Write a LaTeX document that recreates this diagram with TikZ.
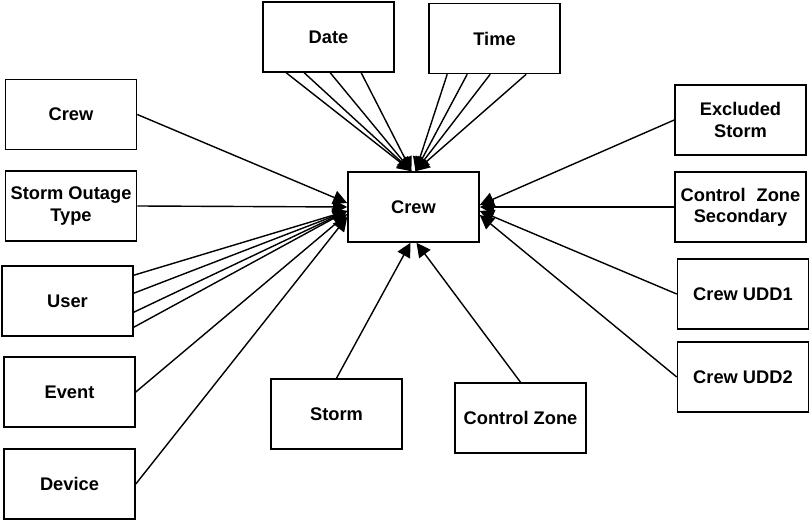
\documentclass[tikz,border=0pt]{standalone}
\usepackage{fontspec}
\setmainfont{Liberation Sans}
\usetikzlibrary{arrows.meta,calc}

\begin{document}
\begin{tikzpicture}[
    x=0.025cm,
    y=-0.025cm,
    entity/.style={
        rectangle,
        draw=black,
        line width=1.1pt,
        minimum width=3.275cm,
        minimum height=1.75cm,
        align=center,
        font=\fontsize{13}{15}\selectfont\bfseries
    },
    link/.style={
        -{Triangle[length=10pt,width=10pt]},
        line width=1pt
    }
]
\useasboundingbox (0,0) rectangle (811,523);

% Center entity
\node[entity] (hub) at (413.5,207) {Crew};

% Top
\node[entity] (date) at (328.5,37) {Date};
\node[entity] (time) at (494.5,38.5) {Time};

% Left column
\node[entity] (crewsrc) at (71,114.5) {Crew};
\node[entity] (outage) at (71,206) {Storm Outage\\Type};
\node[entity] (user) at (67.5,301) {User};
\node[entity] (event) at (69.5,392) {Event};
\node[entity] (device) at (69.5,484) {Device};

% Bottom
\node[entity] (storm) at (336.5,414) {Storm};
\node[entity] (zone) at (520.5,418) {Control Zone};

% Right column
\node[entity] (excluded) at (740.5,120) {Excluded\\Storm};
\node[entity] (zonesec) at (740.5,207) {Control\hspace{0.6em}Zone\\Secondary};
\node[entity] (udd1) at (743,294) {Crew UDD1};
\node[entity] (udd2) at (743,377) {Crew UDD2};

% Links into the top of the hub
\foreach \dx in {24,42,68,99} {
    \draw[link] ($(date.south west)+(\dx,0)$) -- ($(hub.north)+(-2,0)$);
}
\foreach \dx in {19,39,62,98} {
    \draw[link] ($(time.south west)+(\dx,0)$) -- ($(hub.north)+(2,0)$);
}

% Links into the left side of the hub
\draw[link] (crewsrc.east) -- ($(hub.west)+(0,-4)$);
\draw[link] (outage.east) -- (hub.west);
\foreach \dy in {10,28,47,62} {
    \draw[link] ($(user.north east)+(0,\dy)$) -- ($(hub.west)+(0,4)$);
}
\draw[link] (event.east) -- ($(hub.west)+(0,7)$);
\draw[link] (device.east) -- ($(hub.west)+(0,10)$);

% Links into the bottom of the hub
\draw[link] (storm.north) -- ($(hub.south)+(-3,0)$);
\draw[link] (zone.north) -- ($(hub.south)+(3,0)$);

% Links into the right side of the hub
\draw[link] (excluded.west) -- ($(hub.east)+(0,-2)$);
\draw[link] (zonesec.west) -- (hub.east);
\draw[link] (udd1.west) -- ($(hub.east)+(0,4)$);
\draw[link] (udd2.west) -- ($(hub.east)+(0,8)$);

\end{tikzpicture}
\end{document}
